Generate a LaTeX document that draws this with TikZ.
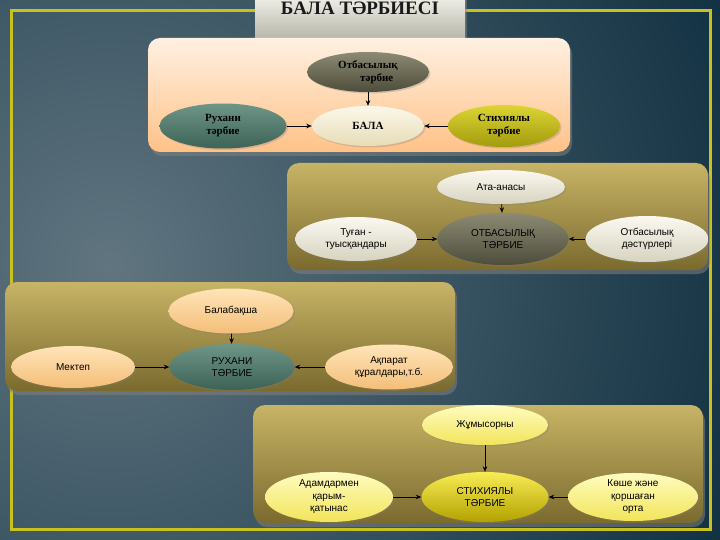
\documentclass[tikz,border=0pt]{standalone}
\usepackage{fontspec}
\setmainfont{Liberation Sans}
\newfontfamily\serifbold{Liberation Serif}
\usepackage{tikz}
\usetikzlibrary{shapes.geometric,arrows.meta,shadows}
\definecolor{bgdark}{HTML}{052638}
\definecolor{bglight}{HTML}{607580}
\definecolor{frameyel}{HTML}{C9C21E}
\definecolor{peachtop}{HTML}{FFF0E2}
\definecolor{peachbot}{HTML}{FFC287}
\definecolor{olivetop}{HTML}{C8B466}
\definecolor{olivebot}{HTML}{7A6A2E}
\definecolor{greytop}{HTML}{F2F2EC}
\definecolor{greybot}{HTML}{B0B0A2}
\definecolor{otbtop}{HTML}{8C8A74}
\definecolor{otbbot}{HTML}{4E4D3B}
\definecolor{rukhtop}{HTML}{6E9688}
\definecolor{rukhbot}{HTML}{3D6256}
\definecolor{creamtop}{HTML}{FCF8EA}
\definecolor{creambot}{HTML}{E6DCB6}
\definecolor{stiktop}{HTML}{DCD534}
\definecolor{stikbot}{HTML}{A39B0C}
\definecolor{lgreytop}{HTML}{FAF8F0}
\definecolor{lgreybot}{HTML}{D8D3C0}
\definecolor{sepiatop}{HTML}{FFE4B8}
\definecolor{sepiabot}{HTML}{F4BE78}
\definecolor{yelltop}{HTML}{FFFCC0}
\definecolor{yellbot}{HTML}{F2E45A}
\definecolor{gold1}{HTML}{F8EC55}
\definecolor{gold2}{HTML}{B2A200}

\tikzset{
  elli/.style={ellipse, inner sep=0pt, align=center, text=black,
    font=\fontsize{10}{12.5}\selectfont,
    drop shadow={opacity=.3, shadow xshift=1.5pt, shadow yshift=-1.5pt}},
  serelli/.style={elli, font=\serifbold\bfseries\fontsize{11}{13}\selectfont},
  panel/.style={rounded corners=12pt,
    drop shadow={opacity=.55, shadow xshift=2pt, shadow yshift=-4pt}},
  arr/.style={-{Stealth[length=5.5pt,width=4.5pt]}, line width=0.7pt, black}
}

\begin{document}
\begin{tikzpicture}[x=1pt,y=-1pt]
  \useasboundingbox (0,0) rectangle (720,540);
  \clip (0,0) rectangle (720,540);
  % Background
  \fill[bgdark] (0,0) rectangle (720,540);
  \shade[inner color=bglight, outer color=bgdark] (110,265) circle (780);
  % Frame
  \draw[frameyel, line width=3pt] (11,11) rectangle (710,529);

  % Title
  \shade[top color=greytop, bottom color=greybot,
    drop shadow={opacity=.5, shadow xshift=2pt, shadow yshift=-3pt}]
    (255,-5) rectangle (465,43);
  \node[anchor=base, font=\serifbold\bfseries\fontsize{19}{20}\selectfont,
    text=black!90] (title) at (360,15) {БАЛА ТӘРБИЕСІ};

  % Panel 1: child
  \shade[panel, top color=peachtop, bottom color=peachbot]
    (148,38) rectangle (570,152);
  \node[serelli, minimum width=122pt, minimum height=40pt,
    top color=otbtop, bottom color=otbbot] (otb1) at (368,72)
    {Отбасылық\\\hspace*{1.6em}тәрбие};
  \node[serelli, minimum width=112pt, minimum height=40pt,
    top color=creamtop, bottom color=creambot] (bala) at (368,126) {БАЛА};
  \node[serelli, minimum width=127pt, minimum height=45pt,
    top color=rukhtop, bottom color=rukhbot] (rukh1) at (223,126)
    {Рухани\\тәрбие};
  \node[serelli, minimum width=112pt, minimum height=42pt,
    top color=stiktop, bottom color=stikbot] (stik1) at (504,126)
    {Стихиялы\\тәрбие};
  \draw[arr] (otb1) -- (bala);
  \draw[arr] (rukh1) -- (bala);
  \draw[arr] (stik1) -- (bala);

  % Panel 2: family
  \shade[panel, top color=olivetop, bottom color=olivebot]
    (287,163) rectangle (708,270);
  \node[elli, minimum width=128pt, minimum height=34pt,
    top color=lgreytop, bottom color=lgreybot] (ata) at (501,187) {Ата-анасы};
  \node[elli, minimum width=131pt, minimum height=52pt,
    top color=otbtop, bottom color=otbbot] (otb2) at (503,239)
    {ОТБАСЫЛЫҚ\\ТӘРБИЕ};
  \node[elli, minimum width=122pt, minimum height=44pt,
    top color=lgreytop, bottom color=lgreybot] (tugan) at (356,239)
    {Туған -\\туысқандары};
  \node[elli, minimum width=123pt, minimum height=46pt,
    top color=lgreytop, bottom color=lgreybot] (dastur) at (647,239)
    {Отбасылық\\дәстүрлері};
  \draw[arr] (ata) -- (otb2);
  \draw[arr] (tugan) -- (otb2);
  \draw[arr] (dastur) -- (otb2);

  % Panel 3: spiritual
  \shade[panel, top color=olivetop, bottom color=olivebot]
    (5,282) rectangle (455,391);
  \node[elli, minimum width=125pt, minimum height=45pt,
    top color=sepiatop, bottom color=sepiabot] (baksha) at (231,311) {Балабақша};
  \node[elli, minimum width=125pt, minimum height=46pt,
    top color=rukhtop, bottom color=rukhbot] (rukh2) at (232,367)
    {РУХАНИ\\ТӘРБИЕ};
  \node[elli, minimum width=124pt, minimum height=42pt,
    top color=sepiatop, bottom color=sepiabot] (mektep) at (73,367) {Мектеп};
  \node[elli, minimum width=128pt, minimum height=45pt,
    top color=sepiatop, bottom color=sepiabot] (aqparat) at (389,367)
    {Ақпарат\\құралдары,т.б.};
  \draw[arr] (baksha) -- (rukh2);
  \draw[arr] (mektep) -- (rukh2);
  \draw[arr] (aqparat) -- (rukh2);

  % Panel 4: spontaneous
  \shade[panel, top color=olivetop, bottom color=olivebot]
    (253,405) rectangle (703,523);
  \node[elli, minimum width=126pt, minimum height=40pt,
    top color=yelltop, bottom color=yellbot] (zhumys) at (485,425) {Жұмысорны};
  \node[elli, minimum width=127pt, minimum height=50pt,
    top color=gold1, bottom color=gold2] (stik2) at (485,497)
    {СТИХИЯЛЫ\\ТӘРБИЕ};
  \node[elli, minimum width=128pt, minimum height=50pt,
    top color=yelltop, bottom color=yellbot] (adam) at (329,497)
    {Адамдармен\\қарым-\\қатынас};
  \node[elli, minimum width=130pt, minimum height=48pt,
    top color=yelltop, bottom color=yellbot] (koshe) at (633,497)
    {Көше және\\қоршаған\\орта};
  \draw[arr] (zhumys) -- (stik2);
  \draw[arr] (adam) -- (stik2);
  \draw[arr] (koshe) -- (stik2);
\end{tikzpicture}
\end{document}
